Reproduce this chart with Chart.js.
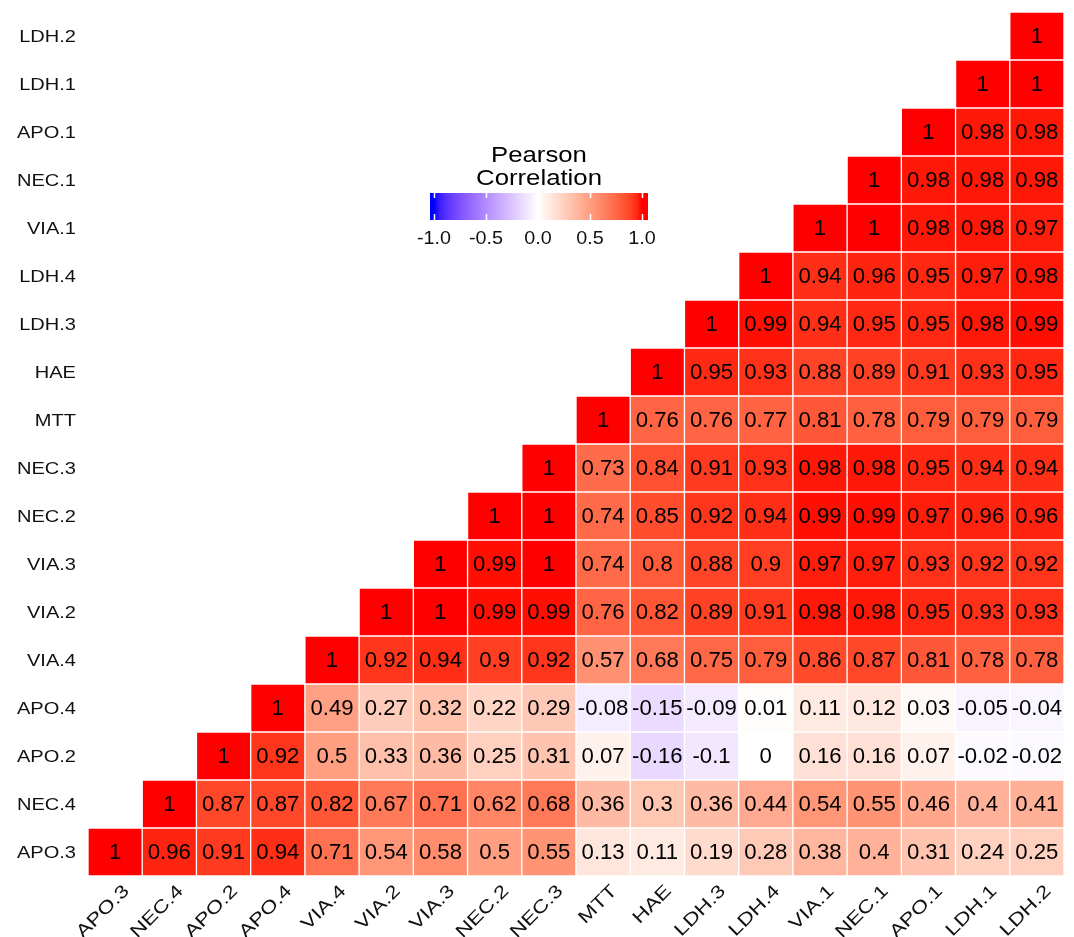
<!DOCTYPE html>
<html><head><meta charset="utf-8">
<script src="https://cdn.jsdelivr.net/npm/chart.js@4.4.1/dist/chart.umd.min.js"></script>
<style>html,body{margin:0;padding:0;background:#fff}#wrap{width:1074px;height:937px}</style>
</head><body><div id="wrap"><canvas id="c" width="1074" height="937"></canvas></div>
<script>
// Variable order (x left→right, y bottom→top)
const variables = ["APO.3","NEC.4","APO.2","APO.4","VIA.4","VIA.2","VIA.3","NEC.2","NEC.3","MTT","HAE","LDH.3","LDH.4","VIA.1","NEC.1","APO.1","LDH.1","LDH.2"];
// Each row lists correlations from its own diagonal cell to the right end
const row_APO3 = [1,0.96,0.91,0.94,0.71,0.54,0.58,0.5,0.55,0.13,0.11,0.19,0.28,0.38,0.4,0.31,0.24,0.25];
const row_NEC4 = [1,0.87,0.87,0.82,0.67,0.71,0.62,0.68,0.36,0.3,0.36,0.44,0.54,0.55,0.46,0.4,0.41];
const row_APO2 = [1,0.92,0.5,0.33,0.36,0.25,0.31,0.07,-0.16,-0.1,0,0.16,0.16,0.07,-0.02,-0.02];
const row_APO4 = [1,0.49,0.27,0.32,0.22,0.29,-0.08,-0.15,-0.09,0.01,0.11,0.12,0.03,-0.05,-0.04];
const row_VIA4 = [1,0.92,0.94,0.9,0.92,0.57,0.68,0.75,0.79,0.86,0.87,0.81,0.78,0.78];
const row_VIA2 = [1,1,0.99,0.99,0.76,0.82,0.89,0.91,0.98,0.98,0.95,0.93,0.93];
const row_VIA3 = [1,0.99,1,0.74,0.8,0.88,0.9,0.97,0.97,0.93,0.92,0.92];
const row_NEC2 = [1,1,0.74,0.85,0.92,0.94,0.99,0.99,0.97,0.96,0.96];
const row_NEC3 = [1,0.73,0.84,0.91,0.93,0.98,0.98,0.95,0.94,0.94];
const row_MTT  = [1,0.76,0.76,0.77,0.81,0.78,0.79,0.79,0.79];
const row_HAE  = [1,0.95,0.93,0.88,0.89,0.91,0.93,0.95];
const row_LDH3 = [1,0.99,0.94,0.95,0.95,0.98,0.99];
const row_LDH4 = [1,0.94,0.96,0.95,0.97,0.98];
const row_VIA1 = [1,1,0.98,0.98,0.97];
const row_NEC1 = [1,0.98,0.98,0.98];
const row_APO1 = [1,0.98,0.98];
const row_LDH1 = [1,1];
const row_LDH2 = [1];
const legendTicks = [-1.0,-0.5,0.0,0.5,1.0];
const legendTickLabels = ["-1.0","-0.5","0.0","0.5","1.0"];
const legendTitle = ["Pearson","Correlation"];

const rows = [row_APO3,row_NEC4,row_APO2,row_APO4,row_VIA4,row_VIA2,row_VIA3,row_NEC2,row_NEC3,row_MTT,row_HAE,row_LDH3,row_LDH4,row_VIA1,row_NEC1,row_APO1,row_LDH1,row_LDH2];

// ---- Lab colour interpolation (blue - white - red) ----
function s2l(c){c/=255;return c<=0.04045?c/12.92:Math.pow((c+0.055)/1.055,2.4);}
function l2s(c){c=c<=0.0031308?12.92*c:1.055*Math.pow(c,1/2.4)-0.055;return Math.round(Math.max(0,Math.min(1,c))*255);}
const Xn=0.95047,Yn=1,Zn=1.08883;
function f(t){return t>0.008856?Math.cbrt(t):7.787*t+16/116;}
function finv(t){const t3=t*t*t;return t3>0.008856?t3:(t-16/116)/7.787;}
function toLab(rgb){const r=s2l(rgb[0]),g=s2l(rgb[1]),b=s2l(rgb[2]);
  const X=0.4124*r+0.3576*g+0.1805*b,Y=0.2126*r+0.7152*g+0.0722*b,Z=0.0193*r+0.1192*g+0.9505*b;
  const fx=f(X/Xn),fy=f(Y/Yn),fz=f(Z/Zn);return [116*fy-16,500*(fx-fy),200*(fy-fz)];}
function fromLab(lab){const fy=(lab[0]+16)/116,fx=fy+lab[1]/500,fz=fy-lab[2]/200;
  const X=finv(fx)*Xn,Y=finv(fy)*Yn,Z=finv(fz)*Zn;
  const r=3.2406*X-1.5372*Y-0.4986*Z,g=-0.9689*X+1.8758*Y+0.0415*Z,b=0.0557*X-0.2040*Y+1.0570*Z;
  return 'rgb('+l2s(r)+','+l2s(g)+','+l2s(b)+')';}
const LW=toLab([255,255,255]),LR=toLab([255,0,0]),LB=toLab([0,0,255]);
function colorFor(v){const t=Math.min(1,Math.abs(v));const e=v>=0?LR:LB;
  return fromLab([LW[0]+(e[0]-LW[0])*t,LW[1]+(e[1]-LW[1])*t,LW[2]+(e[2]-LW[2])*t]);}

// ---- datasets: one per row, floating bars spanning one unit on y ----
const datasets = rows.map((r,j)=>{
  const data=[],bg=[],vals=[];
  variables.forEach((_,i)=>{
    if(i>=j){const v=r[i-j];data.push([j-0.5,j+0.5]);bg.push(colorFor(v));vals.push(v);}
    else{data.push(null);bg.push('rgba(0,0,0,0)');vals.push(null);}
  });
  return {label:variables[j],data,backgroundColor:bg,borderColor:'#ffffff',borderWidth:1,
    borderSkipped:false,grouped:false,barPercentage:1,categoryPercentage:1,vals};
});

const FONT='"Liberation Sans", Arial, sans-serif';
function stretchText(ctx,txt,x,y,sx,align,base,rot){
  ctx.save();ctx.translate(x,y);if(rot)ctx.rotate(rot);ctx.scale(sx,1);
  ctx.textAlign=align;ctx.textBaseline=base;ctx.fillText(txt,0,0);ctx.restore();
}

const overlay={id:'overlay',afterDatasetsDraw(chart){
  const ctx=chart.ctx,xs=chart.scales.x,ys=chart.scales.y,ca=chart.chartArea;
  // cell labels
  ctx.fillStyle='#000';ctx.font='21.5px '+FONT;
  chart.data.datasets.forEach((ds,j)=>{
    const meta=chart.getDatasetMeta(j);
    meta.data.forEach((el,i)=>{
      const v=ds.vals[i];if(v===null)return;
      const cx=el.x,cy=(el.y+el.base)/2;
      stretchText(ctx,String(v),cx,cy+1.5,1.03,'center','middle');
    });
  });
  // y axis labels
  ctx.fillStyle='#111';ctx.font='17px '+FONT;
  variables.forEach((lab,j)=>{stretchText(ctx,lab,ca.left-12,ys.getPixelForValue(j)+1.5,1.18,'right','middle');});
  // x axis labels rotated 45
  ctx.font='18px '+FONT;
  variables.forEach((lab,i)=>{stretchText(ctx,lab,xs.getPixelForValue(i)+5,ca.bottom+6,1.25,'right','top',-Math.PI/4);});
  // legend
  const bx0=430,bx1=648,by0=193,by1=220,vx0=434,vx1=642;
  const px=v=>vx0+(v+1)/2*(vx1-vx0);
  const g=ctx.createLinearGradient(vx0,0,vx1,0);
  for(let k=0;k<=40;k++){const v=-1+k/20;g.addColorStop(k/40,colorFor(v));}
  ctx.fillStyle=g;ctx.fillRect(bx0,by0,bx1-bx0,by1-by0);
  ctx.strokeStyle='#ffffff';ctx.lineWidth=1.5;
  legendTicks.forEach(v=>{const x=Math.round(px(v))+0.5;ctx.beginPath();ctx.moveTo(x,by0);ctx.lineTo(x,by0+5);ctx.moveTo(x,by1-6);ctx.lineTo(x,by1);ctx.stroke();});
  ctx.fillStyle='#111';ctx.font='17.5px '+FONT;
  legendTicks.forEach((v,k)=>stretchText(ctx,legendTickLabels[k],px(v),239.5,1.13,'center','middle'));
  ctx.fillStyle='#000';ctx.font='22px '+FONT;
  stretchText(ctx,legendTitle[0],539,162,1.17,'center','alphabetic');
  stretchText(ctx,legendTitle[1],539,185,1.17,'center','alphabetic');
}};

new Chart(document.getElementById('c'),{
  type:'bar',
  data:{labels:variables,datasets},
  options:{responsive:false,animation:false,devicePixelRatio:1,
    layout:{padding:{left:88,right:10,top:12,bottom:61}},
    plugins:{legend:{display:false},tooltip:{enabled:false}},
    scales:{
      x:{type:'category',display:false,offset:true,grid:{display:false}},
      y:{type:'linear',display:false,min:-0.5,max:17.5}
    }
  },
  plugins:[overlay]
});
</script></body></html>
